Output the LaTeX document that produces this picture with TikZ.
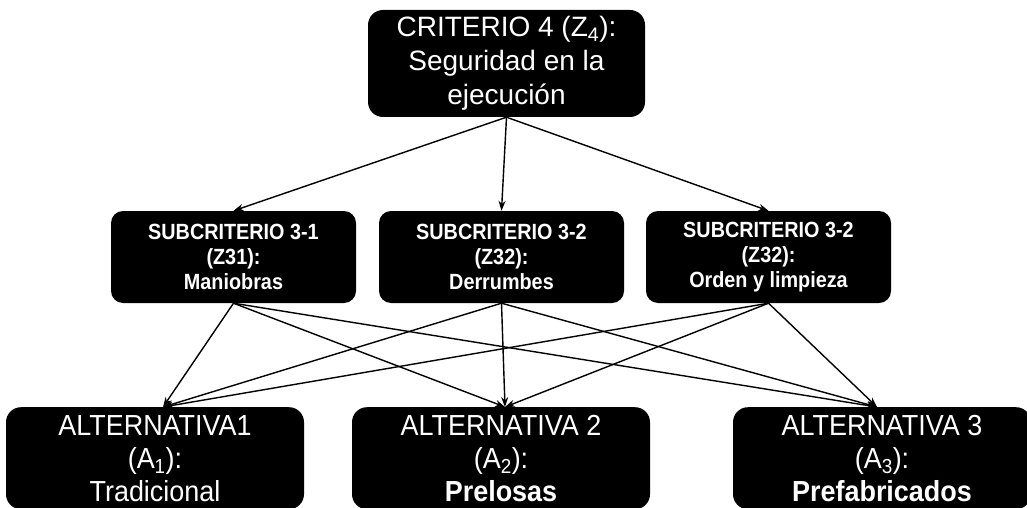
\documentclass[tikz,border=0pt]{standalone}
\usepackage{fontspec}
\setmainfont{Liberation Sans}
\newfontfamily\subfont[FakeStretch=0.9]{Liberation Sans}
\newfontfamily\altfont[FakeStretch=0.93]{Liberation Sans}
\usetikzlibrary{arrows.meta}
\tikzset{
  box/.style={fill=black, text=white, align=center, inner sep=0pt},
  topbox/.style={box, rounded corners=15pt, minimum width=277pt, minimum height=107pt,
    font={\fontsize{28}{34}\selectfont}},
  subbox/.style={box, rounded corners=12pt, minimum width=245pt, minimum height=92pt,
    font={\subfont\bfseries\fontsize{22}{25}\selectfont}},
  altbox/.style={box, rounded corners=15pt, minimum width=298pt, minimum height=102pt,
    font={\altfont\fontsize{29}{33}\selectfont}},
  arr/.style={draw=black, line width=1.4pt, -{Stealth[length=10pt,width=7pt]}}
}
\begin{document}
\begin{tikzpicture}[x=1pt,y=-1pt]
\useasboundingbox (0,0) rectangle (1027,508);
\node[topbox] (c) at (506.5,63.5) {CRITERIO 4 (Z\textsubscript{4}):\\Seguridad en la\\ejecución};
\node[subbox] (s1) at (233.5,257) {SUBCRITERIO 3-1\\(Z31):\\Maniobras};
\node[subbox] (s2) at (501.5,257) {SUBCRITERIO 3-2\\(Z32):\\Derrumbes};
\node[subbox] (s3) at (768.5,257) {SUBCRITERIO 3-2\\(Z32):\\Orden y limpieza};
\node[altbox, anchor=north] (a1) at (155,407) {ALTERNATIVA1\\(A\textsubscript{1}):\\Tradicional};
\node[altbox, anchor=north] (a2) at (501,407) {ALTERNATIVA 2\\(A\textsubscript{2}):\\\textbf{Prelosas}};
\node[altbox, anchor=north] (a3) at (882,407) {ALTERNATIVA 3\\(A\textsubscript{3}):\\\textbf{Prefabricados}};
\foreach \s in {s1,s2,s3} {\draw[arr] (c.south) -- (\s.north);}
\foreach \s in {s1,s2,s3} {
  \draw[arr] (\s.south) -- ([xshift=8pt]a1.north);
  \draw[arr] (\s.south) -- ([xshift=4pt]a2.north);
  \draw[arr] (\s.south) -- ([xshift=-5pt]a3.north);
}
\end{tikzpicture}
\end{document}
